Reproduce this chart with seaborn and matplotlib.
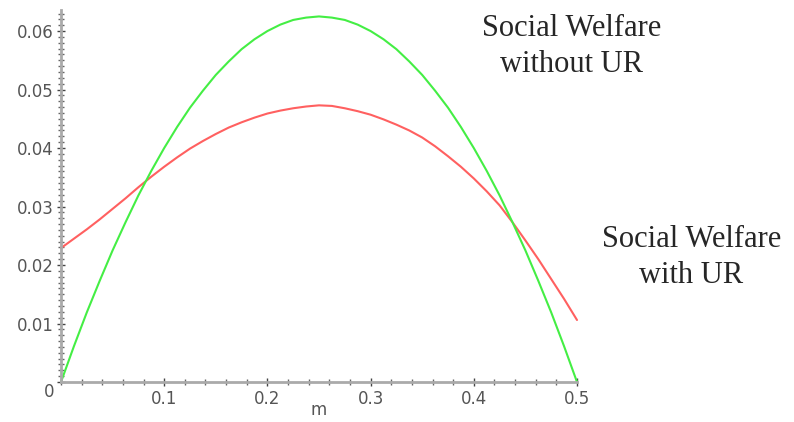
import matplotlib
matplotlib.use("Agg")
import matplotlib.pyplot as plt
import matplotlib.transforms as mtransforms
from matplotlib.ticker import MultipleLocator, FixedLocator
import pandas as pd
import seaborn as sns

# values
m_values = [0.0, 0.0125, 0.025, 0.0375, 0.05, 0.0625, 0.075, 0.0875, 0.1, 0.1125,
            0.125, 0.1375, 0.15, 0.1625, 0.175, 0.1875, 0.2, 0.2125, 0.225, 0.2375,
            0.25, 0.2625, 0.275, 0.2875, 0.3, 0.3125, 0.325, 0.3375, 0.35, 0.3625,
            0.375, 0.3875, 0.4, 0.4125, 0.425, 0.4375, 0.45, 0.4625, 0.475, 0.4875,
            0.5]
welfare_without_ur = [0.0, 0.0061, 0.0119, 0.0173, 0.0225, 0.0273, 0.0319, 0.0361,
                      0.0400, 0.0436, 0.0469, 0.0498, 0.0525, 0.0548, 0.0569, 0.0586,
                      0.0600, 0.0611, 0.0619, 0.0623, 0.0625, 0.0623, 0.0619, 0.0611,
                      0.0600, 0.0586, 0.0569, 0.0548, 0.0525, 0.0498, 0.0469, 0.0436,
                      0.0400, 0.0361, 0.0319, 0.0273, 0.0225, 0.0173, 0.0119, 0.0061,
                      0.0]
welfare_with_ur = [0.0229, 0.0245, 0.0261, 0.0278, 0.0296, 0.0314, 0.0333, 0.0351,
                   0.0368, 0.0384, 0.0399, 0.0412, 0.0424, 0.0435, 0.0444, 0.0452,
                   0.0459, 0.0464, 0.0468, 0.0471, 0.0473, 0.0472, 0.0468, 0.0463,
                   0.0457, 0.0449, 0.0440, 0.0430, 0.0418, 0.0403, 0.0386, 0.0368,
                   0.0348, 0.0326, 0.0302, 0.0273, 0.0242, 0.0210, 0.0176, 0.0142,
                   0.0106]
x_ticks = [0.1, 0.2, 0.3, 0.4, 0.5]
x_tick_labels = ["0.1", "0.2", "0.3", "0.4", "0.5"]
y_ticks = [0.0, 0.01, 0.02, 0.03, 0.04, 0.05, 0.06]
y_tick_labels = ["0", "0.01", "0.02", "0.03", "0.04", "0.05", "0.06"]
label_without = "Social Welfare\nwithout UR"
label_with = "Social Welfare\nwith UR"

sns.set_style("white")

df = pd.DataFrame({
    "m": m_values,
    "without": welfare_without_ur,
    "with": welfare_with_ur,
})

fig = plt.figure(figsize=(7.94, 4.22), dpi=100)
ax = fig.add_axes([61 / 794, 40 / 422, 516 / 794, 372 / 422])

sns.lineplot(data=df, x="m", y="with", color="#ff6060", linewidth=1.5,
             ax=ax, clip_on=False)
sns.lineplot(data=df, x="m", y="without", color="#44ee44", linewidth=1.5,
             ax=ax, clip_on=False)

ax.set_xlim(0, 0.5)
ax.set_ylim(0, 0.0636)

for side in ["top", "right"]:
    ax.spines[side].set_visible(False)
for side in ["left", "bottom"]:
    ax.spines[side].set_color("#aaaaaa")
    ax.spines[side].set_linewidth(2)

ax.xaxis.set_major_locator(FixedLocator(x_ticks))
ax.set_xticklabels(x_tick_labels)
ax.yaxis.set_major_locator(FixedLocator(y_ticks))
ax.set_yticklabels(y_tick_labels)
ax.xaxis.set_minor_locator(MultipleLocator(0.02))
ax.yaxis.set_minor_locator(MultipleLocator(0.001))

ax.tick_params(axis="both", which="both", bottom=True, left=True)
ax.tick_params(axis="both", which="major", direction="inout", length=6,
               width=1, color="#444444", labelcolor="#555555", labelsize=12)
ax.tick_params(axis="both", which="minor", direction="inout", length=4,
               width=1, color="#666666")
ax.tick_params(axis="x", which="major", pad=3)
ax.tick_params(axis="y", which="major", pad=2)

# the zero label of the y axis sits a little lower in the reference
zero_lbl = ax.get_yticklabels()[0]
zero_lbl.set_transform(zero_lbl.get_transform()
                       + mtransforms.ScaledTranslation(0, -8 / 100, fig.dpi_scale_trans))

ax.set_xlabel("m", fontsize=12, color="#555555", labelpad=-5)
ax.set_ylabel("")

ax.text(0.495, 0.0530, label_without, ha="center", va="baseline",
        multialignment="center", fontsize=22, family="Liberation Serif",
        linespacing=1.33, clip_on=False)
ax.text(0.611, 0.0169, label_with, ha="center", va="baseline",
        multialignment="center", fontsize=22, family="Liberation Serif",
        linespacing=1.33, clip_on=False)

fig.savefig("out.png", dpi=100)
